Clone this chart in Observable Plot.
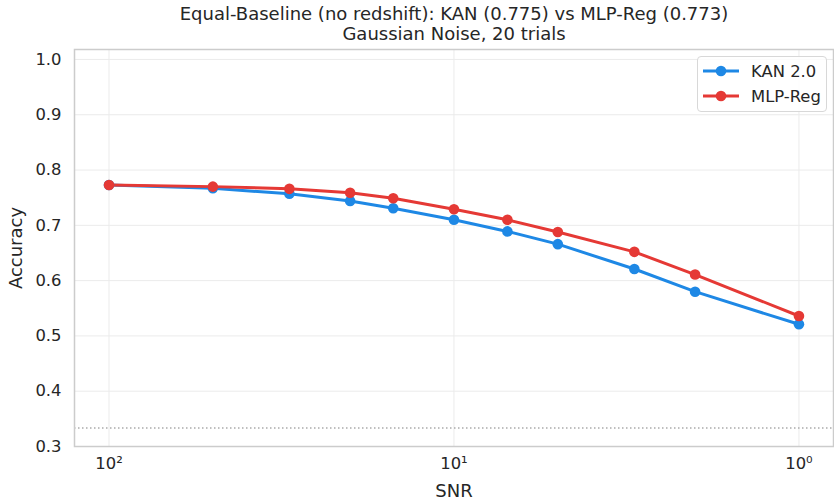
<!DOCTYPE html>
<html><head><meta charset="utf-8">
<script src="https://cdn.jsdelivr.net/npm/d3@7"></script>
<script src="https://cdn.jsdelivr.net/npm/@observablehq/plot@0.6"></script>
<style>
body{margin:0;background:#fff;font-family:"DejaVu Sans",sans-serif}
#wrap{position:relative;width:834px;height:501px}
#legend{position:absolute;left:697px;top:56px;width:130px;height:56px;box-sizing:border-box;border:1px solid #d8d8d8;border-radius:4px;background:rgba(255,255,255,0.85);font-size:16.4px;color:#262626}
.row{position:absolute;left:0;height:20px;display:flex;align-items:center}
.row svg{margin-left:5px}
.row span{margin-left:12px}
</style></head>
<body><div id="wrap"></div>
<script>
const snr = [100, 50, 30, 20, 15, 10, 7, 5, 3, 2, 1];
const kanAcc = [0.773, 0.767, 0.757, 0.744, 0.731, 0.710, 0.689, 0.666, 0.621, 0.580, 0.521];
const mlpAcc = [0.773, 0.770, 0.766, 0.759, 0.749, 0.729, 0.710, 0.688, 0.652, 0.611, 0.536];
const seriesNames = ["KAN 2.0", "MLP-Reg"];
const seriesColors = ["#1e88e5", "#e53935"];
const chance = 1/3;
const titleLines = ["Equal-Baseline (no redshift): KAN (0.775) vs MLP-Reg (0.773)", "Gaussian Noise, 20 trials"];
const yTicks = [0.3, 0.4, 0.5, 0.6, 0.7, 0.8, 0.9, 1.0];
const xTicks = [100, 10, 1];
const xTickLabels = ["10²", "10¹", "10⁰"];

const rows = [];
snr.forEach((s, i) => {
  rows.push({snr: s, acc: kanAcc[i], series: seriesNames[0]});
});
snr.forEach((s, i) => {
  rows.push({snr: s, acc: mlpAcc[i], series: seriesNames[1]});
});

const chart = Plot.plot({
  width: 834, height: 501,
  marginLeft: 74, marginRight: 1, marginTop: 49, marginBottom: 55,
  style: {fontFamily: "DejaVu Sans, sans-serif", fontSize: "16.4px", color: "#262626", background: "#fff"},
  x: {type: "log", domain: [125.9, 0.794], ticks: xTicks, tickFormat: d => xTickLabels[xTicks.indexOf(d)], tickSize: 0, tickPadding: 11, label: "SNR", labelAnchor: "center", labelOffset: 50, labelArrow: "none"},
  y: {domain: [0.3, 1.018], ticks: yTicks, tickFormat: d3.format(".1f"), tickSize: 0, tickPadding: 13, label: "Accuracy", labelAnchor: "center", labelOffset: 65, labelArrow: "none"},
  color: {domain: seriesNames, range: seriesColors},
  marks: [
    Plot.gridY(yTicks, {stroke: "#ebebeb", strokeOpacity: 1, strokeWidth: 1}),
    Plot.gridX(xTicks, {stroke: "#ebebeb", strokeOpacity: 1, strokeWidth: 1}),
    Plot.ruleY([chance], {stroke: "#aaaaaa", strokeWidth: 1.5, strokeDasharray: "1.5,2.5"}),
    Plot.line(rows, {x: "snr", y: "acc", stroke: "series", z: "series", strokeWidth: 3}),
    Plot.dot(rows, {x: "snr", y: "acc", fill: "series", r: 5.3}),
    Plot.frame({stroke: "#cccccc", strokeWidth: 1.5}),
    Plot.text([titleLines[0]], {frameAnchor: "top", lineAnchor: "middle", dy: -35, fontSize: 18, fill: "#262626"}),
    Plot.text([titleLines[1]], {frameAnchor: "top", lineAnchor: "middle", dy: -15, fontSize: 18, fill: "#262626"})
  ]
});
chart.querySelectorAll("g[aria-label='x-axis label'] text, g[aria-label='y-axis label'] text").forEach(t => t.setAttribute("font-size", "18px"));
const wrap = document.getElementById("wrap");
wrap.appendChild(chart);

const legend = document.createElement("div");
legend.id = "legend";
seriesNames.forEach((name, i) => {
  const row = document.createElement("div");
  row.className = "row";
  row.style.top = (4 + i * 25) + "px";
  row.innerHTML = `<svg width="36" height="12"><line x1="0" y1="6" x2="36" y2="6" stroke="${seriesColors[i]}" stroke-width="3"/><circle cx="18" cy="6" r="5.3" fill="${seriesColors[i]}"/></svg><span>${name}</span>`;
  legend.appendChild(row);
});
wrap.appendChild(legend);
</script></body></html>
